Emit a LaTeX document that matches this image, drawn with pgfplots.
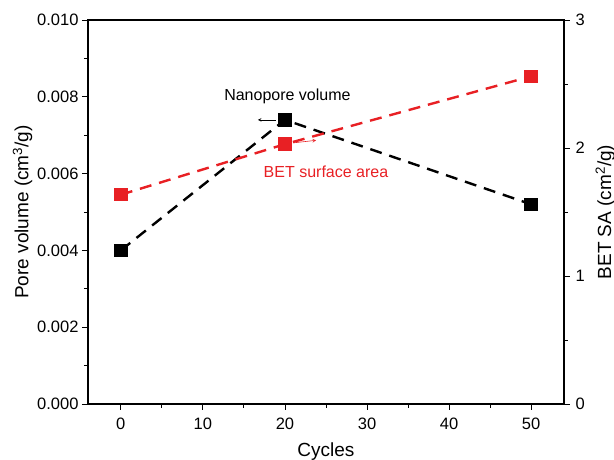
\documentclass[border=0pt]{standalone}
\usepackage{fontspec}
\setmainfont{Liberation Sans}
\usepackage{pgfplots}
\pgfplotsset{compat=1.18}
\definecolor{betred}{RGB}{232,32,36}

\begin{document}
\begin{tikzpicture}
\path[use as bounding box] (-88pt,-56pt) rectangle (526pt,404pt);
\pgfplotsset{
  common/.style={
    scale only axis,
    width=476pt, height=384pt,
    xmin=-4, xmax=54,
    font=\fontsize{16.5}{18}\selectfont,
    /pgf/number format/assume math mode=true,
    tick style={black, line width=0.9pt},
    major tick length=6pt, minor tick length=4pt,
    tick align=outside,
    axis line style={line width=1.1pt},
    label style={font=\fontsize{19}{21}\selectfont},
  }
}
\begin{axis}[
  common,
  ymin=0, ymax=0.01,
  ytick={0,0.002,...,0.010},
  minor ytick={0.001,0.003,...,0.009},
  xtick={0,10,...,50},
  minor xtick={-5,5,15,...,55},
  xtick pos=bottom, ytick pos=left,
  scaled y ticks=false,
  yticklabel style={/pgf/number format/.cd, fixed, fixed zerofill, precision=3},
  xticklabel style={yshift=-4pt},
  xlabel={Cycles},
  ylabel={Pore volume (cm\textsuperscript{3}/g)},
  xlabel style={yshift=-7pt},
  ylabel style={yshift=-2pt},
  clip=false,
]
\addplot[black, line width=2.4pt, dash pattern=on 12pt off 8pt,
  mark=square*, mark size=5.5pt, mark options={solid}]
  coordinates {(0,0.0040) (20,0.0074) (50,0.0052)};
\node[black, font=\fontsize{16}{18}\selectfont] at (axis cs:20.3,0.0080) {Nanopore volume};
\draw[-stealth, black, line width=0.6pt] (axis cs:18.9,0.0074) -- (axis cs:16.7,0.0074);
\node[betred, font=\fontsize{16}{18}\selectfont] at (axis cs:25,0.00605) {BET surface area};
\end{axis}
\begin{axis}[
  common,
  axis x line=none,
  axis y line*=right,
  ymin=0, ymax=3,
  ytick={0,1,2,3},
  minor ytick={0.5,1.5,2.5},
  yticklabel style={xshift=2pt},
  ylabel={BET SA (cm\textsuperscript{2}/g)},
  ylabel style={yshift=-4pt},
  clip=false,
]
\addplot[betred, line width=2.4pt, dash pattern=on 12pt off 8pt,
  mark=square*, mark size=5.5pt, mark options={solid}]
  coordinates {(0,1.635) (20,2.03) (50,2.56)};
\draw[-stealth, betred, line width=0.6pt] (axis cs:21.0,2.04) -- (axis cs:23.8,2.06);
\end{axis}
\end{tikzpicture}
\end{document}
